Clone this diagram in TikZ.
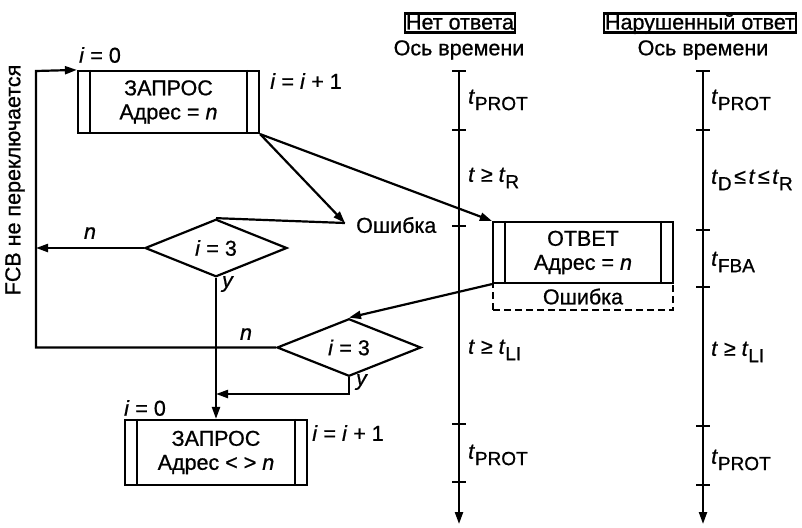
\documentclass[tikz,border=0pt]{standalone}
\usepackage{fontspec}
\setmainfont{Liberation Sans}[UprightFeatures={FakeBold=0.8},ItalicFeatures={FakeBold=0.8}]
\usetikzlibrary{arrows.meta,shapes.geometric}
\tikzset{
ln/.style={line width=2.2pt},
arr/.style={ln,-{Triangle[length=12pt,width=8pt]}},
txt/.style={font=\fontsize{21.5}{24}\selectfont},
proc/.style={draw,ln,txt,align=center,inner sep=0pt},
cond/.style={draw,ln,txt,diamond,inner sep=0pt},
lbl/.style={txt,inner sep=0pt},
hdr/.style={draw,ln,txt,inner sep=1pt,text height=15pt,text depth=2pt},
}
\newcommand\tsb[1]{\raisebox{-0.3em}{\fontsize{19}{19}\selectfont #1}}
\newcommand\ksp{\hspace{0.12em}}
\begin{document}
\begin{tikzpicture}[x=1pt,y=-1pt]
\useasboundingbox (0,0) rectangle (802,527);
\pgfmathsetmacro{\tla}{459}
\pgfmathsetmacro{\tlb}{703}
\pgfmathsetmacro{\ktick}{7}
\pgfmathsetmacro{\kbar}{13}
% blocks
\node[proc,dash pattern=on 7pt off 4pt,line width=1.5pt,minimum width=180pt,minimum height=27pt] (nak) at (583,296.5) {Ошибка};
\node[proc,minimum width=181pt,minimum height=62pt] (qa) at (168.5,102) {ЗАПРОС\\Адрес = \textit{n}};
\node[proc,minimum width=180pt,minimum height=61pt] (ans) at (583,252.5) {ОТВЕТ\\Адрес = \textit{n}};
\node[proc,minimum width=182pt,minimum height=65pt] (qb) at (216,452.5) {ЗАПРОС\\Адрес < > \textit{n}};
\node[cond,minimum width=142pt,minimum height=50pt] (da) at (216,248) {\textit{i} = 3};
\node[cond,minimum width=144pt,minimum height=49pt] (db) at (349,347.5) {\textit{i} = 3};
\foreach \kb in {qa,ans,qb}{\draw[ln]([xshift=\kbar pt]\kb.north west)--([xshift=\kbar pt]\kb.south west);\draw[ln]([xshift=-\kbar pt]\kb.north east)--([xshift=-\kbar pt]\kb.south east);}
% time axes
\node[hdr] (hna) at (460,23) {Нет ответа};
\node[lbl] (axa) at (\tla,50) {Ось времени};
\node[hdr] (hnb) at (700,23) {Нарушенный ответ};
\node[lbl] (axb) at (\tlb,50) {Ось времени};
\coordinate (ta0) at (\tla,71); \coordinate (ta1) at (\tla,524);
\coordinate (tb0) at (\tlb,71); \coordinate (tb1) at (\tlb,524);
\draw[arr](ta0)--(ta1);
\draw[arr](tb0)--(tb1);
\foreach \ky in {71,130,226,424,482}{\draw[ln](\tla-\ktick,\ky)--++(2*\ktick,0);}
\foreach \ky in {71,130,230,287,426,485}{\draw[ln](\tlb-\ktick,\ky)--++(2*\ktick,0);}
\foreach \ky/\kt in {100/{\textit{t}\tsb{PROT}},178/{\textit{t} ≥ \textit{t}\tsb{R}},350/{\textit{t} ≥ \textit{t}\tsb{LI}},455/{\textit{t}\tsb{PROT}}}{\node[lbl,anchor=west](la\ky) at (\tla+9,\ky){\kt};}
\foreach \ky/\kt in {100/{\textit{t}\tsb{PROT}},180/{\textit{t}\tsb{D}\ksp≤\ksp\textit{t}\ksp≤\ksp\textit{t}\tsb{R}},262/{\textit{t}\tsb{FBA}},352/{\textit{t} ≥ \textit{t}\tsb{LI}},460/{\textit{t}\tsb{PROT}}}{\node[lbl,anchor=west](lb\ky) at (\tlb+8,\ky){\kt};}
% flow
\coordinate (erp) at (345,223);
\coordinate (fb) at (36,71);
\coordinate (yj) at (216,394);
\node[lbl,anchor=west] (erl) at (356,225) {Ошибка};
\draw[arr](qa.south east)--(erp);
\draw[ln](erp)--(da.north);
\draw[arr](qa.south east)--(ans.north west);
\draw[arr](da.west)--(da.west-|fb);
\draw[arr](db.west)-|(fb)--(qa.north west);
\draw[arr](da.south)--(qb.north);
\draw[arr](ans.south west)--(db.north);
\draw[arr](db.south)|-(yj);
\node[lbl] (i0a) at (100,55) {\textit{i} = 0};
\node[lbl] (iia) at (306,81) {\textit{i} = \textit{i} + 1};
\node[lbl] (na) at (90,233) {\textit{n}};
\node[lbl] (ya) at (228,284) {\textit{y}};
\node[lbl] (nb) at (246,334) {\textit{n}};
\node[lbl] (yb) at (362,382) {\textit{y}};
\node[lbl] (i0b) at (145,408) {\textit{i} = 0};
\node[lbl] (iib) at (348,433) {\textit{i} = \textit{i} + 1};
\node[lbl,rotate=90] (fcb) at (15,180) {FCB не переключается};
\end{tikzpicture}
\end{document}
